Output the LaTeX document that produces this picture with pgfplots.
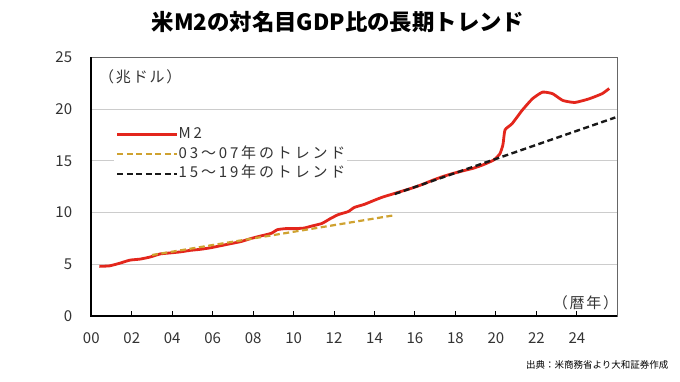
\documentclass[border=0pt]{standalone}
\usepackage{fontspec}
\setmainfont{Noto Sans CJK JP}
\usepackage{pgfplots}
\pgfplotsset{compat=1.18}
\definecolor{m2red}{HTML}{E3261C}
\definecolor{trendor}{HTML}{CFA230}
\definecolor{txt}{HTML}{333333}
\newcommand{\tickfont}{\fontsize{15}{15}\selectfont}
\newcommand{\legfont}{\fontsize{15}{15}\selectfont\addfontfeature{LetterSpace=19}}
\newcommand{\labfont}{\fontsize{15}{15}\selectfont\addfontfeature{LetterSpace=12}}
\begin{document}
\begin{tikzpicture}
\path[use as bounding box, fill=white] (0pt,0pt) rectangle (680pt,-382pt);
\node[font=\bfseries\fontsize{22.4}{22.4}\selectfont, anchor=center] at (338pt,-22pt) {米M2の対名目GDP比の長期トレンド};
\node[font=\fontsize{9.5}{9.5}\selectfont, anchor=east, text=black] at (672pt,-365pt) {出典：米商務省より大和証券作成};
\begin{axis}[
  at={(91.3pt,-316pt)}, anchor=south west,
  width=526pt, height=258.5pt, scale only axis,
  xmin=2000, xmax=2026, ymin=0, ymax=25,
  xtick={2000,2002,...,2024},
  xticklabels={00,02,04,06,08,10,12,14,16,18,20,22,24},
  ytick={0,5,10,15,20,25},
  yticklabels={0,5,10,15,20,25},
  tick align=inside,
  xtick pos=bottom, ytick pos=left,
  major tick length=5pt,
  xtick style={black, line width=1pt},
  ytick style={draw=none},
  ymajorgrids, grid style={draw=gray!40, line width=1pt},
  axis line style={draw=gray!80!black, line width=1pt},
  xticklabel style={font=\tickfont, text=txt, inner sep=0pt, anchor=north, text height=11pt, text depth=0pt, yshift=-16pt},
  yticklabel style={font=\tickfont, text=txt, inner sep=0pt, anchor=east, xshift=-19pt},
  legend style={at={(axis description cs:0.0425,0.7366)}, anchor=north west,
    draw=none, fill=white, inner sep=2pt, row sep=5.5pt,
    font=\legfont, text=txt,
    nodes={inner sep=0pt, text height=11pt, text depth=3pt},
    /tikz/every even column/.append style={column sep=6pt}},
  legend cell align=left,
  legend image code/.code={\draw[#1] (0pt,0pt) -- (60pt,0pt);},
  clip=false,
]
\addplot[m2red, line width=2.8pt, line join=round, smooth, tension=0.3] coordinates {
(2000.4,4.8) (2000.9,4.85) (2001.4,5.1) (2001.9,5.4) (2002.4,5.5) (2002.9,5.7)
(2003.4,6.0) (2003.9,6.1) (2004.4,6.2) (2004.9,6.35) (2005.4,6.45) (2005.9,6.6)
(2006.4,6.8) (2006.9,7.0) (2007.4,7.2) (2007.9,7.5) (2008.4,7.75) (2008.9,8.0)
(2009.2,8.35) (2009.6,8.45) (2010.0,8.45) (2010.5,8.5) (2010.9,8.7) (2011.4,8.95)
(2011.8,9.4) (2012.2,9.8) (2012.7,10.1) (2013.0,10.5) (2013.5,10.8) (2014.0,11.2)
(2014.4,11.5) (2014.9,11.8) (2015.4,12.1) (2015.9,12.4) (2016.4,12.75) (2016.9,13.15)
(2017.4,13.5) (2017.9,13.8) (2018.4,14.05) (2018.9,14.3) (2019.4,14.65) (2019.9,15.1)
(2020.2,15.7) (2020.35,16.6) (2020.45,18.0) (2020.8,18.6) (2021.3,19.9) (2021.8,21.0)
(2022.3,21.65) (2022.8,21.5) (2023.3,20.85) (2023.9,20.65) (2024.6,21.0) (2025.25,21.5)
(2025.6,22.0)};
\addlegendentry{M2}
\addplot[trendor, line width=2.2pt, dash pattern=on 6pt off 3.5pt] coordinates {(2003.0,5.9) (2015.0,9.75)};
\addlegendentry{03～07年のトレンド}
\addplot[black!90, line width=2.4pt, dash pattern=on 6pt off 3.5pt] coordinates {(2015.0,11.8) (2025.9,19.2)};
\addlegendentry{15～19年のトレンド}
\draw[black, line width=1.8pt] (rel axis cs:0,1) -- (rel axis cs:0,0) -- (rel axis cs:1,0);
\node[font=\labfont, text=txt, anchor=center] at (axis cs:2002.42,23.1) {（兆ドル）};
\node[font=\labfont, text=txt, anchor=center] at (axis cs:2024.43,1.25) {（暦年）};
\end{axis}
\end{tikzpicture}
\end{document}
